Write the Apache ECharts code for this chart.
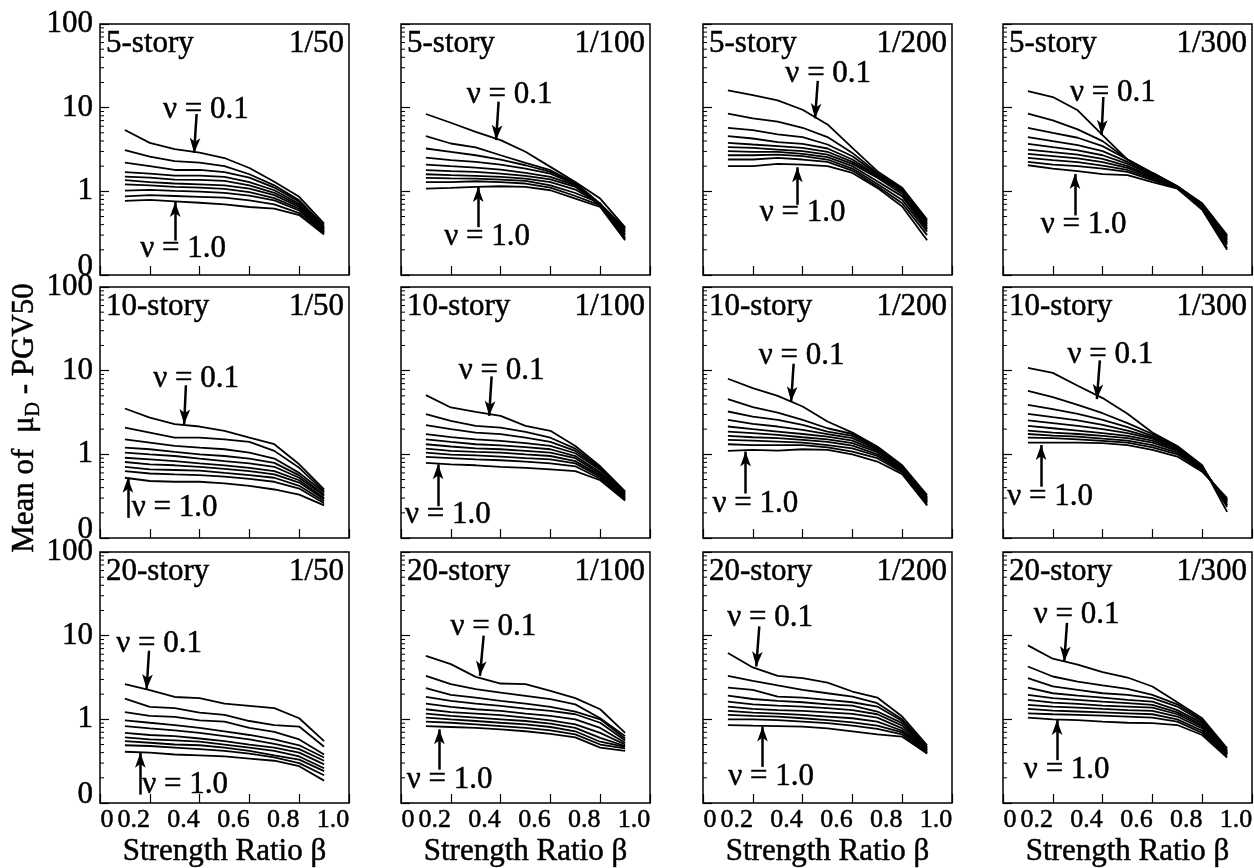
<!DOCTYPE html>
<html>
<head>
<meta charset="utf-8">
<script src="https://cdn.jsdelivr.net/npm/echarts@6/dist/echarts.min.js"></script>
<style>
  html, body { margin: 0; background: #fff; }
  #main { width: 1254px; height: 868px; }
</style>
</head>
<body>
<div id="main"></div>
<script>
// strength ratio beta (x) for every curve
const beta = [0.1, 0.2, 0.3, 0.4, 0.5, 0.6, 0.7, 0.8, 0.9]
const nuValues = ['0.1', '0.2', '0.3', '0.4', '0.5', '0.6', '0.7', '0.8', '0.9', '1.0']
const stories = ['5-story', '10-story', '20-story']
const drifts = ['1/50', '1/100', '1/200', '1/300']
const logMinor = [0.2, 0.3, 0.4, 0.5, 0.6, 0.7, 0.8, 0.9, 2, 3, 4, 5, 6, 7, 8, 9, 20, 30, 40, 50, 60, 70, 80, 90]

// mean of muD - PGV50, one row per nu (0.1 ... 1.0)
const s5_50 = [
  [5.4, 3.8, 3.2, 2.9, 2.5, 1.9, 1.3, 0.86, 0.41],
  [3.1, 2.6, 2.3, 2.2, 2.0, 1.6, 1.18, 0.78, 0.39],
  [2.2, 2.0, 1.8, 1.8, 1.7, 1.46, 1.11, 0.75, 0.37],
  [1.7, 1.63, 1.54, 1.54, 1.49, 1.29, 1.03, 0.71, 0.36],
  [1.5, 1.46, 1.38, 1.37, 1.33, 1.18, 0.96, 0.68, 0.35],
  [1.36, 1.29, 1.24, 1.21, 1.18, 1.08, 0.9, 0.65, 0.34],
  [1.21, 1.18, 1.13, 1.11, 1.07, 0.98, 0.83, 0.62, 0.33],
  [1.02, 1.04, 1.01, 0.99, 0.96, 0.89, 0.78, 0.59, 0.325],
  [0.87, 0.9, 0.88, 0.86, 0.84, 0.78, 0.7, 0.55, 0.316],
  [0.77, 0.79, 0.76, 0.73, 0.7, 0.65, 0.62, 0.52, 0.305]
]
const s5_100 = [
  [8.4, 6.6, 5.15, 4.1, 2.97, 1.96, 1.29, 0.82, 0.37],
  [4.57, 3.73, 3.35, 2.7, 2.19, 1.79, 1.26, 0.71, 0.36],
  [3.25, 2.97, 2.7, 2.4, 2.05, 1.71, 1.24, 0.7, 0.35],
  [2.53, 2.36, 2.25, 2.09, 1.87, 1.63, 1.21, 0.68, 0.34],
  [2.09, 2.0, 1.92, 1.82, 1.66, 1.49, 1.18, 0.68, 0.325],
  [1.79, 1.74, 1.71, 1.63, 1.53, 1.39, 1.13, 0.68, 0.31],
  [1.6, 1.56, 1.53, 1.49, 1.42, 1.29, 1.05, 0.71, 0.3],
  [1.45, 1.43, 1.42, 1.38, 1.33, 1.18, 0.955, 0.72, 0.28],
  [1.29, 1.29, 1.32, 1.29, 1.24, 1.11, 0.88, 0.68, 0.27],
  [1.08, 1.1, 1.13, 1.15, 1.13, 1.03, 0.82, 0.65, 0.26]
]
const s5_200 = [
  [16.1, 14.1, 12.2, 9.45, 6.3, 3.3, 1.74, 1.1, 0.46],
  [8.5, 7.45, 6.8, 5.75, 4.45, 2.88, 1.66, 1.08, 0.44],
  [5.75, 5.4, 4.79, 4.45, 3.63, 2.63, 1.61, 1.05, 0.42],
  [4.57, 4.28, 3.87, 3.7, 3.25, 2.4, 1.56, 1.02, 0.4],
  [3.8, 3.63, 3.47, 3.31, 2.97, 2.25, 1.51, 0.98, 0.38],
  [3.37, 3.31, 3.16, 3.02, 2.75, 2.13, 1.45, 0.93, 0.36],
  [3.02, 2.97, 2.97, 2.8, 2.56, 2.0, 1.32, 0.87, 0.35],
  [2.7, 2.7, 2.75, 2.63, 2.4, 1.87, 1.22, 0.79, 0.33],
  [2.4, 2.4, 2.51, 2.4, 2.25, 1.77, 1.15, 0.72, 0.3],
  [2.0, 2.0, 2.13, 2.09, 2.0, 1.66, 1.1, 0.66, 0.26]
]
const s5_300 = [
  [15.8, 13.4, 9.3, 4.7, 2.4, 1.66, 1.15, 0.72, 0.3],
  [8.5, 7.05, 5.5, 3.98, 2.4, 1.66, 1.15, 0.7, 0.29],
  [5.75, 5.0, 4.37, 3.47, 2.4, 1.66, 1.15, 0.69, 0.28],
  [4.45, 3.98, 3.57, 3.02, 2.25, 1.61, 1.14, 0.68, 0.27],
  [3.7, 3.37, 3.08, 2.7, 2.13, 1.56, 1.13, 0.67, 0.26],
  [3.16, 2.94, 2.75, 2.45, 2.0, 1.51, 1.12, 0.65, 0.25],
  [2.8, 2.63, 2.47, 2.23, 1.91, 1.47, 1.11, 0.64, 0.24],
  [2.51, 2.36, 2.23, 2.03, 1.8, 1.42, 1.1, 0.63, 0.23],
  [2.25, 2.09, 2.0, 1.87, 1.71, 1.36, 1.09, 0.62, 0.21],
  [2.05, 1.87, 1.74, 1.61, 1.56, 1.29, 1.08, 0.6, 0.2]
]
const s10_50 = [
  [3.53, 2.75, 2.29, 2.15, 1.91, 1.58, 1.32, 0.76, 0.38],
  [2.09, 1.82, 1.58, 1.58, 1.51, 1.41, 1.1, 0.69, 0.36],
  [1.51, 1.38, 1.26, 1.2, 1.15, 1.05, 0.89, 0.6, 0.35],
  [1.2, 1.15, 1.07, 1.0, 0.955, 0.89, 0.79, 0.56, 0.33],
  [1.05, 1.0, 0.955, 0.89, 0.83, 0.78, 0.71, 0.525, 0.32],
  [0.91, 0.87, 0.83, 0.78, 0.74, 0.69, 0.63, 0.49, 0.3],
  [0.81, 0.76, 0.74, 0.71, 0.67, 0.63, 0.575, 0.46, 0.29],
  [0.71, 0.66, 0.65, 0.64, 0.6, 0.565, 0.525, 0.42, 0.275],
  [0.63, 0.59, 0.575, 0.565, 0.54, 0.51, 0.47, 0.39, 0.26],
  [0.525, 0.48, 0.47, 0.47, 0.45, 0.42, 0.38, 0.33, 0.245]
]
const s10_100 = [
  [5.1, 3.63, 3.22, 2.88, 2.19, 1.91, 1.26, 0.72, 0.36],
  [3.02, 2.51, 2.19, 2.09, 1.85, 1.58, 1.17, 0.69, 0.35],
  [2.23, 2.0, 1.82, 1.74, 1.58, 1.41, 1.1, 0.67, 0.34],
  [1.74, 1.61, 1.51, 1.45, 1.36, 1.26, 1.03, 0.65, 0.33],
  [1.51, 1.41, 1.32, 1.28, 1.22, 1.15, 0.955, 0.61, 0.32],
  [1.32, 1.24, 1.18, 1.15, 1.1, 1.05, 0.9, 0.585, 0.31],
  [1.17, 1.1, 1.07, 1.05, 1.0, 0.955, 0.83, 0.56, 0.3],
  [1.05, 0.99, 0.97, 0.94, 0.9, 0.87, 0.78, 0.535, 0.29],
  [0.93, 0.9, 0.87, 0.85, 0.82, 0.78, 0.72, 0.51, 0.285],
  [0.79, 0.76, 0.74, 0.71, 0.69, 0.66, 0.63, 0.49, 0.28]
]
const s10_200 = [
  [8.0, 6.2, 5.0, 3.73, 2.47, 1.82, 1.24, 0.74, 0.325],
  [4.57, 3.67, 3.16, 2.58, 2.05, 1.75, 1.21, 0.72, 0.31],
  [3.25, 2.83, 2.58, 2.25, 1.87, 1.66, 1.18, 0.71, 0.3],
  [2.58, 2.31, 2.15, 1.96, 1.74, 1.56, 1.15, 0.7, 0.29],
  [2.15, 2.0, 1.87, 1.75, 1.63, 1.46, 1.11, 0.68, 0.28],
  [1.87, 1.79, 1.71, 1.6, 1.51, 1.36, 1.06, 0.67, 0.275],
  [1.66, 1.6, 1.56, 1.49, 1.41, 1.27, 1.0, 0.65, 0.27],
  [1.49, 1.46, 1.42, 1.38, 1.29, 1.18, 0.955, 0.63, 0.26],
  [1.32, 1.29, 1.29, 1.29, 1.21, 1.08, 0.9, 0.61, 0.25],
  [1.1, 1.13, 1.11, 1.15, 1.13, 1.0, 0.82, 0.58, 0.245]
]
const s10_300 = [
  [10.8, 9.4, 6.6, 4.7, 3.05, 1.82, 1.26, 0.74, 0.205],
  [5.75, 4.83, 3.9, 3.1, 2.36, 1.75, 1.24, 0.72, 0.235],
  [3.9, 3.47, 3.05, 2.58, 2.11, 1.66, 1.21, 0.71, 0.246],
  [3.05, 2.78, 2.54, 2.25, 1.92, 1.6, 1.18, 0.7, 0.25],
  [2.54, 2.36, 2.19, 2.0, 1.79, 1.54, 1.15, 0.69, 0.26],
  [2.19, 2.05, 1.92, 1.79, 1.66, 1.46, 1.13, 0.67, 0.27],
  [1.92, 1.82, 1.75, 1.66, 1.56, 1.38, 1.1, 0.66, 0.28],
  [1.75, 1.67, 1.63, 1.54, 1.46, 1.29, 1.05, 0.65, 0.28],
  [1.58, 1.56, 1.51, 1.45, 1.38, 1.21, 1.0, 0.64, 0.29],
  [1.38, 1.38, 1.38, 1.36, 1.29, 1.13, 0.94, 0.62, 0.3]
]
const s20_50 = [
  [2.63, 2.23, 1.85, 1.79, 1.54, 1.45, 1.36, 1.03, 0.55],
  [1.77, 1.41, 1.36, 1.2, 1.13, 0.955, 0.855, 0.82, 0.47],
  [1.22, 1.1, 1.07, 0.97, 0.94, 0.79, 0.71, 0.575, 0.38],
  [0.97, 0.91, 0.855, 0.79, 0.72, 0.65, 0.575, 0.49, 0.35],
  [0.83, 0.78, 0.74, 0.69, 0.63, 0.575, 0.51, 0.44, 0.32],
  [0.69, 0.65, 0.63, 0.59, 0.55, 0.5, 0.46, 0.4, 0.29],
  [0.61, 0.575, 0.56, 0.54, 0.5, 0.46, 0.42, 0.36, 0.26],
  [0.55, 0.525, 0.5, 0.49, 0.46, 0.42, 0.37, 0.33, 0.24],
  [0.49, 0.48, 0.46, 0.44, 0.42, 0.39, 0.35, 0.3, 0.215],
  [0.41, 0.4, 0.38, 0.37, 0.36, 0.34, 0.32, 0.275, 0.185]
]
const s20_100 = [
  [5.75, 4.57, 3.22, 2.68, 2.63, 2.19, 1.79, 1.32, 0.69],
  [3.31, 2.63, 2.29, 2.09, 1.91, 1.74, 1.51, 1.03, 0.63],
  [2.36, 1.96, 1.82, 1.66, 1.54, 1.41, 1.24, 1.0, 0.59],
  [1.85, 1.66, 1.54, 1.45, 1.34, 1.26, 1.15, 0.91, 0.56],
  [1.54, 1.41, 1.32, 1.26, 1.17, 1.1, 1.0, 0.79, 0.525],
  [1.32, 1.22, 1.17, 1.12, 1.05, 0.97, 0.87, 0.69, 0.5],
  [1.17, 1.1, 1.05, 1.0, 0.955, 0.89, 0.79, 0.6, 0.48],
  [1.05, 1.0, 0.955, 0.91, 0.87, 0.81, 0.72, 0.54, 0.47],
  [0.94, 0.91, 0.87, 0.83, 0.79, 0.74, 0.66, 0.5, 0.45],
  [0.83, 0.81, 0.79, 0.76, 0.72, 0.67, 0.61, 0.46, 0.42]
]
const s20_200 = [
  [6.2, 4.17, 3.31, 3.1, 2.75, 2.15, 1.82, 1.08, 0.49],
  [3.31, 2.88, 2.54, 2.25, 2.05, 1.87, 1.56, 1.0, 0.47],
  [2.4, 2.25, 1.87, 1.82, 1.71, 1.6, 1.42, 0.955, 0.46],
  [1.92, 1.75, 1.66, 1.6, 1.51, 1.46, 1.24, 0.9, 0.44],
  [1.63, 1.51, 1.46, 1.42, 1.36, 1.29, 1.15, 0.84, 0.43],
  [1.42, 1.33, 1.29, 1.26, 1.21, 1.16, 1.05, 0.78, 0.42],
  [1.26, 1.2, 1.17, 1.13, 1.08, 1.03, 0.94, 0.73, 0.41],
  [1.13, 1.1, 1.08, 1.03, 0.98, 0.92, 0.84, 0.7, 0.4],
  [1.0, 1.0, 0.98, 0.94, 0.9, 0.84, 0.77, 0.66, 0.39],
  [0.855, 0.84, 0.83, 0.82, 0.78, 0.72, 0.66, 0.62, 0.39]
]
const s20_300 = [
  [7.65, 5.3, 4.5, 3.67, 3.16, 2.47, 1.6, 1.03, 0.45],
  [4.28, 3.25, 2.83, 2.54, 2.31, 1.96, 1.51, 0.98, 0.43],
  [3.1, 2.47, 2.25, 2.05, 1.96, 1.79, 1.42, 0.94, 0.42],
  [2.4, 2.05, 1.92, 1.82, 1.71, 1.63, 1.29, 0.9, 0.41],
  [1.96, 1.79, 1.71, 1.63, 1.56, 1.49, 1.21, 0.855, 0.4],
  [1.71, 1.58, 1.53, 1.46, 1.42, 1.38, 1.15, 0.82, 0.39],
  [1.49, 1.42, 1.38, 1.33, 1.29, 1.26, 1.08, 0.78, 0.39],
  [1.33, 1.27, 1.24, 1.21, 1.18, 1.15, 1.0, 0.73, 0.38],
  [1.18, 1.15, 1.13, 1.11, 1.08, 1.05, 0.94, 0.69, 0.37],
  [1.05, 1.0, 0.98, 0.94, 0.91, 0.9, 0.855, 0.65, 0.35]
]
const panels = [s5_50, s5_100, s5_200, s5_300, s10_50, s10_100, s10_200, s10_300, s20_50, s20_100, s20_200, s20_300]

// annotation anchors in data space [beta, value]:
// nu=0.1 text, arrow tail, arrow head, nu=1.0 text, arrow tail, arrow head
const notes = [
  [[0.425, 9.4], [0.388, 8.4], [0.378, 2.88], [0.334, 0.205], [0.302, 0.258], [0.302, 0.745]],
  [[0.436, 14.2], [0.392, 11.8], [0.382, 4.1], [0.346, 0.283], [0.31, 0.373], [0.31, 1.13]],
  [[0.503, 25.1], [0.461, 20.9], [0.45, 7.45], [0.4, 0.55], [0.379, 0.69], [0.379, 1.94]],
  [[0.441, 15.1], [0.403, 13.4], [0.396, 4.7], [0.324, 0.4], [0.289, 0.515], [0.289, 1.61]],
  [[0.386, 7.94], [0.345, 6.7], [0.338, 2.29], [0.3, 0.23], [0.112, 0.174], [0.112, 0.525]],
  [[0.404, 10], [0.364, 8.56], [0.354, 2.88], [0.188, 0.19], [0.149, 0.24], [0.149, 0.76]],
  [[0.396, 14.9], [0.364, 12.1], [0.354, 4.28], [0.21, 0.258], [0.171, 0.34], [0.171, 1.08]],
  [[0.431, 15.6], [0.389, 13.3], [0.377, 4.57], [0.189, 0.31], [0.153, 0.41], [0.153, 1.29]],
  [[0.237, 7.94], [0.197, 6.6], [0.187, 2.29], [0.342, 0.166], [0.162, 0.126], [0.162, 0.4]],
  [[0.371, 12.6], [0.332, 10], [0.317, 3.31], [0.195, 0.19], [0.154, 0.25], [0.154, 0.76]],
  [[0.27, 16.3], [0.226, 12.9], [0.214, 4.28], [0.274, 0.205], [0.239, 0.27], [0.239, 0.82]],
  [[0.296, 17.9], [0.257, 14.2], [0.246, 4.92], [0.256, 0.246], [0.217, 0.325], [0.217, 0.98]]
]

const FONT = "'Liberation Serif', 'DejaVu Serif', serif"
const FS = 31
const colLeft = [100, 401, 703, 1003]
const rowTop = [24, 287, 552]
const W = 249
const H = 251
// a thin outline of the same colour makes the serif text a little heavier
const heavy = { textBorderColor: '#000', textBorderWidth: 0.5 }

let grid = []
let xAxis = []
let yAxis = []
let series = []
let graphic = []

panels.forEach((lines, i) => {
  const r = Math.floor(i / 4)
  const c = i % 4
  grid.push({
    left: colLeft[c], top: rowTop[r], width: W, height: H,
    show: true, borderColor: '#000', borderWidth: 1.5, backgroundColor: 'transparent',
    outerBoundsMode: 'none'
  })
  xAxis.push({
    gridIndex: i, type: 'value', min: 0, max: 1, interval: 0.2,
    axisLine: { show: false },
    axisTick: { inside: true, length: 9, lineStyle: { color: '#000', width: 1.2 } },
    splitLine: { show: false },
    axisLabel: {
      show: r === 2, margin: 4, align: 'center', color: '#000',
      formatter: v => v === 0 ? '{z|0}' : '{n|' + v.toFixed(1) + '}',
      rich: {
        z: Object.assign({ fontSize: 26, fontFamily: FONT, color: '#000', padding: [0, 0, 0, 14] }, heavy),
        n: Object.assign({ fontSize: 26, fontFamily: FONT, color: '#000', padding: [0, 32, 0, 0] }, heavy)
      }
    },
    name: r === 2 ? 'Strength Ratio β' : '',
    nameLocation: 'middle', nameGap: 33,
    nameTextStyle: Object.assign({ fontSize: FS, fontFamily: FONT, color: '#000' }, heavy)
  })
  yAxis.push({
    gridIndex: i, type: 'log', logBase: 10, min: 0.1, max: 100,
    axisLine: { show: false },
    axisTick: { inside: true, length: 9, lineStyle: { color: '#000', width: 1.2 } },
    splitLine: { show: false },
    axisLabel: {
      show: c === 0, margin: 7, color: '#000',
      formatter: v => v < 1 ? '{z|0}' : '{n|' + Math.round(v) + '}',
      rich: {
        z: Object.assign({ fontSize: FS, fontFamily: FONT, color: '#000', padding: [0, 0, 16, 0] }, heavy),
        n: Object.assign({ fontSize: FS, fontFamily: FONT, color: '#000' }, heavy)
      }
    }
  })

  lines.forEach((vals, k) => {
    const s = {
      type: 'line', name: 'nu ' + nuValues[k], xAxisIndex: i, yAxisIndex: i,
      data: beta.map((b, j) => [b, vals[j]]),
      symbol: 'none', silent: true, animation: false,
      lineStyle: { color: '#000', width: 1.8 }
    }
    if (k === 0) {
      const n = notes[i]
      s.markLine = {
        silent: true, animation: false,
        symbol: ['none', 'arrow'], symbolSize: [8, 15],
        label: { show: false },
        lineStyle: { color: '#000', width: 2.5, type: 'solid' },
        data: [
          [{ coord: n[1] }, { coord: n[2] }],
          [{ coord: n[4] }, { coord: n[5] }]
        ]
      }
      s.markPoint = {
        silent: true, animation: false,
        symbol: 'circle', symbolSize: 1,
        itemStyle: { color: 'rgba(0,0,0,0)' },
        label: Object.assign({ show: true, position: 'inside', formatter: '{b}', color: '#000', fontSize: FS, fontFamily: FONT }, heavy),
        data: [
          { name: 'ν = 0.1', coord: n[0] },
          { name: 'ν = 1.0', coord: n[3] }
        ]
      }
    }
    series.push(s)
  })

  // small log minor ticks on the left edge
  series.push({
    type: 'custom', xAxisIndex: i, yAxisIndex: i, silent: true, animation: false,
    data: logMinor.map(v => [0, v]),
    renderItem: (params, api) => {
      const p = api.coord([0, api.value(1)])
      return {
        type: 'line',
        shape: { x1: p[0], y1: p[1], x2: p[0] + 4, y2: p[1] },
        style: { stroke: '#000', lineWidth: 1 }
      }
    }
  })

  graphic.push({
    type: 'text', x: colLeft[c] + 6, y: rowTop[r] + 20,
    style: { text: stories[r], fill: '#000', stroke: '#000', lineWidth: 0.5, font: FS + 'px ' + FONT, align: 'left', verticalAlign: 'middle' }
  })
  graphic.push({
    type: 'text', x: colLeft[c] + W - 5, y: rowTop[r] + 20,
    style: { text: drifts[c], fill: '#000', stroke: '#000', lineWidth: 0.5, font: FS + 'px ' + FONT, align: 'right', verticalAlign: 'middle' }
  })
})

graphic.push({
  type: 'text', x: 25, y: 418, rotation: Math.PI / 2,
  style: {
    text: '{a|Mean of  μ}{b|D}{a| - PGV50}',
    align: 'center', verticalAlign: 'middle',
    rich: {
      a: { fontSize: FS, fontFamily: FONT, fill: '#000', stroke: '#000', lineWidth: 0.5, lineHeight: 38 },
      b: { fontSize: 20, fontFamily: FONT, fill: '#000', stroke: '#000', lineWidth: 0.4, lineHeight: 38, verticalAlign: 'bottom' }
    }
  }
})

const chart = echarts.init(document.getElementById('main'), null, { renderer: 'canvas' })
chart.setOption({
  backgroundColor: '#fff',
  animation: false,
  grid: grid,
  xAxis: xAxis,
  yAxis: yAxis,
  series: series,
  graphic: graphic
})
</script>
</body>
</html>
